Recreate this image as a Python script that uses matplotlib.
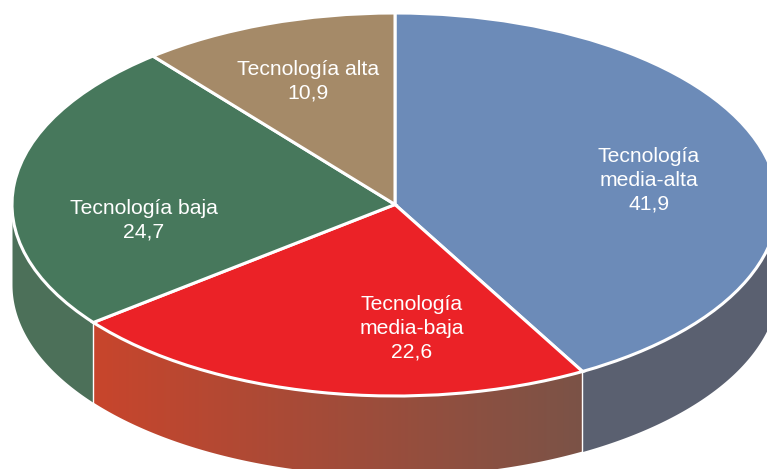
import numpy as np
import matplotlib
matplotlib.use('AGG')
import matplotlib.pyplot as plt
from matplotlib.colors import to_rgb
from matplotlib.patches import Polygon

# Shares of each technology level, clockwise from the top
categories = ['Tecnología\nmedia-alta', 'Tecnología\nmedia-baja', 'Tecnología baja', 'Tecnología alta']
values = [41.9, 22.6, 24.7, 10.9]
value_labels = ['41,9', '22,6', '24,7', '10,9']

top_colors = ['#6C8BB8', '#EB2227', '#47785C', '#A58A68']
wall_colors = ['#5A6070', ('#C8452C', '#7B5347'), '#4C7059', None]
label_pixels = [(649, 180), (412, 328), (144, 220), (308, 81)]

# Ellipse of the pie top in image pixels
CX, CY, RX, RY = 395, 204.5, 383, 191.5
DEPTH = 80 / RY

plt.rcParams['font.family'] = ['Liberation Sans', 'DejaVu Sans']


def to_data(px, py):
    return (px - CX) / RX, (CY - py) / RY


def draw_wall(start, end, color):
    # only the front half of the rim (90 to 270 deg clockwise from top) shows
    start = max(start, 90)
    end = min(end, 270)
    if end <= start:
        return
    phi = np.radians(np.linspace(start, end, 181))
    x = np.sin(phi)
    y = np.cos(phi)
    if isinstance(color, tuple):
        # left to right gradient, clipped to the wall outline
        c0 = np.array(to_rgb(color[0]))
        c1 = np.array(to_rgb(color[1]))
        t = np.linspace(0, 1, 256)[None, :, None]
        grad = c0[None, None, :] * (1 - t) + c1[None, None, :] * t
        outline = np.vstack([np.column_stack([x, y]), np.column_stack([x[::-1], y[::-1] - DEPTH])])
        clip = Polygon(outline, closed=True, transform=ax.transData, fc='none', ec='none')
        ax.add_patch(clip)
        im = ax.imshow(grad, extent=(x.min(), x.max(), (y - DEPTH).min(), y.max()),
                       aspect='auto', origin='lower', zorder=0.5, interpolation='bilinear')
        im.set_clip_path(clip)
    else:
        ax.fill_between(x, y, y - DEPTH, color=color, lw=0, zorder=0.5)


fig = plt.figure(figsize=(7.67, 4.69), dpi=100)
ax = fig.add_axes([0, 0, 1, 1])

ax.pie(values, colors=top_colors, startangle=90, counterclock=False, radius=1,
       wedgeprops={'edgecolor': 'white', 'linewidth': 2.2, 'zorder': 2})

edges = np.cumsum([0] + values) / sum(values) * 360
for i in range(len(values)):
    draw_wall(edges[i], edges[i + 1], wall_colors[i])

# the pie is squashed into an ellipse by giving up the equal aspect
ax.set_aspect('auto')
ax.set_xlim(to_data(0, 0)[0], to_data(767, 0)[0])
ax.set_ylim(to_data(0, 469)[1], to_data(0, 0)[1])

# thin white seams between the wall pieces
for e in edges[1:3]:
    phi = np.radians(e)
    ax.plot([np.sin(phi)] * 2, [np.cos(phi), np.cos(phi) - DEPTH], color='white', lw=1, zorder=1)

for name, val, pos in zip(categories, value_labels, label_pixels):
    lx, ly = to_data(*pos)
    ax.text(lx, ly, name + '\n' + val, color='white', fontsize=15.2, ha='center', va='center',
            linespacing=1.3, zorder=3)

fig.savefig('out.png', dpi=100)
